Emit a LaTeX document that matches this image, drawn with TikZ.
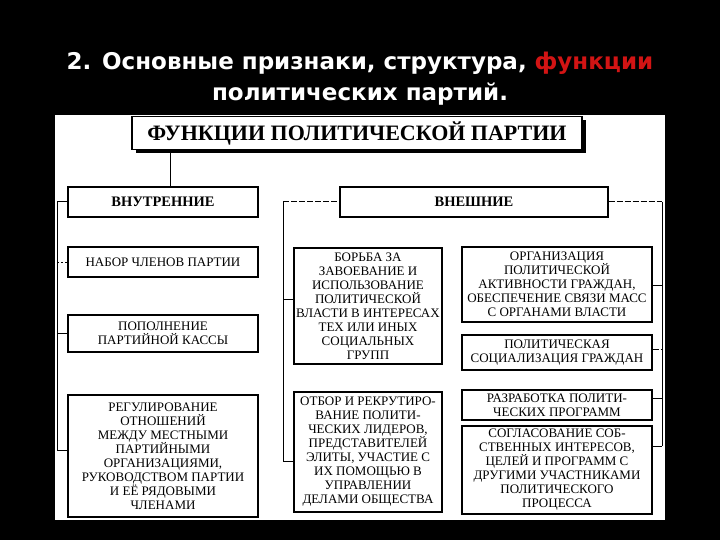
\documentclass[tikz,border=0pt]{standalone}
\usepackage{fontspec}
\setmainfont{Liberation Serif}
\newfontfamily\headfont{DejaVu Sans}
\usetikzlibrary{shadows}
\definecolor{hred}{RGB}{210,20,20}
\begin{document}
\begin{tikzpicture}[x=1pt,y=-1pt,
  headtext/.style={text=white, font=\headfont\bfseries\fontsize{23}{27}\selectfont, inner sep=0pt},
  box/.style={draw, line width=1.1pt, fill=white, align=center, inner sep=1pt,
    font=\fontsize{13}{14}\selectfont},
  catbox/.style={box, font=\bfseries\fontsize{14.5}{16}\selectfont},
  titlebox/.style={draw, line width=1.2pt, fill=white, inner sep=1pt,
    font=\bfseries\fontsize{22}{26}\selectfont,
    drop shadow={shadow xshift=4pt, shadow yshift=-4pt, opacity=1, fill=black}},
  conn/.style={line width=1pt},
  dconn/.style={line width=1pt, dash pattern=on 6pt off 2pt}
]
\fill[black] (0,0) rectangle (720,540);
\useasboundingbox (0,0) rectangle (720,540);
\fill[white] (55,115) rectangle (665,520);

% heading
\node[headtext] (h1) at (360,63) {2. Основные признаки, структура, \textcolor{hred}{функции}};
\node[headtext] (h2) at (360,94) {политических партий.};

% title
\node[titlebox, minimum width=450pt, minimum height=33pt] (title) at (357,133) {ФУНКЦИИ ПОЛИТИЧЕСКОЙ ПАРТИИ};

% categories
\node[catbox, minimum width=190pt, minimum height=30pt] (vn) at (163,202) {ВНУТРЕННИЕ};
\node[catbox, minimum width=268pt, minimum height=30pt] (vsh) at (474,202) {ВНЕШНИЕ};

% inner functions
\node[box, minimum width=190pt, minimum height=30pt] (nabor) at (163,262) {НАБОР ЧЛЕНОВ ПАРТИИ};
\node[box, minimum width=190pt, minimum height=37pt] (popoln) at (163,333.5) {ПОПОЛНЕНИЕ\\ПАРТИЙНОЙ КАССЫ};
\node[box, minimum width=190pt, minimum height=122pt] (regul) at (163,456) {РЕГУЛИРОВАНИЕ\\ОТНОШЕНИЙ\\МЕЖДУ МЕСТНЫМИ\\ПАРТИЙНЫМИ\\ОРГАНИЗАЦИЯМИ,\\РУКОВОДСТВОМ ПАРТИИ\\И ЕЁ РЯДОВЫМИ\\ЧЛЕНАМИ};

% outer functions, middle column
\node[box, minimum width=148pt, minimum height=116pt] (borba) at (368,306) {БОРЬБА ЗА\\ЗАВОЕВАНИЕ И\\ИСПОЛЬЗОВАНИЕ\\ПОЛИТИЧЕСКОЙ\\ВЛАСТИ В ИНТЕРЕСАХ\\ТЕХ ИЛИ ИНЫХ\\СОЦИАЛЬНЫХ\\ГРУПП};
\node[box, minimum width=148pt, minimum height=120pt] (otbor) at (368,452) {ОТБОР И РЕКРУТИРО-\\ВАНИЕ ПОЛИТИ-\\ЧЕСКИХ ЛИДЕРОВ,\\ПРЕДСТАВИТЕЛЕЙ\\ЭЛИТЫ, УЧАСТИЕ С\\ИХ ПОМОЩЬЮ В\\УПРАВЛЕНИИ\\ДЕЛАМИ ОБЩЕСТВА};

% outer functions, right column
\node[box, minimum width=190pt, minimum height=75pt] (org) at (557,284.5) {ОРГАНИЗАЦИЯ\\ПОЛИТИЧЕСКОЙ\\АКТИВНОСТИ ГРАЖДАН,\\ОБЕСПЕЧЕНИЕ СВЯЗИ МАСС\\С ОРГАНАМИ ВЛАСТИ};
\node[box, minimum width=190pt, minimum height=35pt] (soc) at (557,352.5) {ПОЛИТИЧЕСКАЯ\\СОЦИАЛИЗАЦИЯ ГРАЖДАН};
\node[box, minimum width=190pt, minimum height=30pt] (razr) at (557,405) {РАЗРАБОТКА ПОЛИТИ-\\ЧЕСКИХ ПРОГРАММ};
\node[box, minimum width=190pt, minimum height=88pt] (sogl) at (557,470) {СОГЛАСОВАНИЕ СОБ-\\СТВЕННЫХ ИНТЕРЕСОВ,\\ЦЕЛЕЙ И ПРОГРАММ С\\ДРУГИМИ УЧАСТНИКАМИ\\ПОЛИТИЧЕСКОГО\\ПРОЦЕССА};

% connector coordinates
\coordinate (ttop) at (170,150);
\coordinate (L1) at (57,202);
\coordinate (L2) at (57,262);
\coordinate (L3) at (57,333);
\coordinate (L4) at (57,450);
\coordinate (M1) at (283,202);
\coordinate (M2) at (283,299);
\coordinate (M3) at (283,461);
\coordinate (R1) at (662,202);
\coordinate (R2) at (662,285);
\coordinate (R3) at (662,349);
\coordinate (R4) at (662,398);
\coordinate (R5) at (662,446);

% title to inner
\draw[conn] (ttop) -- (ttop |- vn.north);
% left bus
\draw[conn] (L1) -- (L4);
\draw[conn] (L1) -- (vn.west);
\draw[dconn, dash pattern=on 2pt off 2pt] (L2) -- (L2 -| nabor.west);
\draw[conn] (L3) -- (L3 -| popoln.west);
\draw[conn] (L4) -- (L4 -| regul.west);
% middle bus
\draw[conn] (M1) -- (M3);
\draw[dconn] (M1) -- (vsh.west);
\draw[conn] (M2) -- (M2 -| borba.west);
\draw[conn] (M3) -- (M3 -| otbor.west);
% right bus
\draw[conn] (R1) -- (R5);
\draw[dconn] (vsh.east) -- (R1);
\draw[conn] (R2 -| org.east) -- (R2);
\draw[dconn] (R3 -| soc.east) -- (R3);
\draw[conn] (R4 -| razr.east) -- (R4);
\draw[conn] (R5 -| sogl.east) -- (R5);
\end{tikzpicture}
\end{document}
